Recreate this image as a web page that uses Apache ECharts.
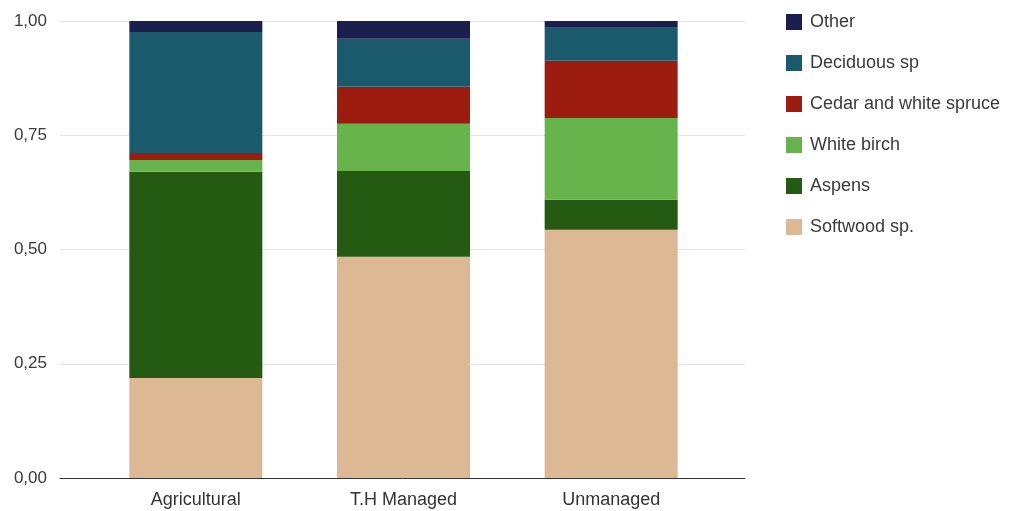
<!DOCTYPE html>
<html>
<head>
<meta charset="utf-8">
<script src="https://cdn.jsdelivr.net/npm/echarts@6/dist/echarts.min.js"></script>
<style>
  html, body { margin: 0; padding: 0; background: #fff; }
  #chart { width: 1012px; height: 511px; }
</style>
</head>
<body>
<div id="chart"></div>
<script>
const categories = ['Agricultural', 'T.H Managed', 'Unmanaged'];
const legendOrder = ['Other', 'Deciduous sp', 'Cedar and white spruce', 'White birch', 'Aspens', 'Softwood sp.'];

// proportions, bottom to top
const softwood = [0.219, 0.484, 0.543];
const aspens = [0.451, 0.188, 0.066];
const whiteBirch = [0.026, 0.103, 0.179];
const cedar = [0.015, 0.081, 0.125];
const deciduous = [0.265, 0.105, 0.072];
const other = [0.024, 0.039, 0.015];

const yTicks = [0, 0.25, 0.5, 0.75, 1];

const chart = echarts.init(document.getElementById('chart'));

const font = 'Liberation Sans, Arial, sans-serif';

function bar(name, data, color) {
  return {
    name,
    type: 'bar',
    stack: 'total',
    xAxisIndex: 1,
    yAxisIndex: 1,
    barWidth: 133,
    itemStyle: { color },
    data
  };
}

chart.setOption({
  animation: false,
  textStyle: { fontFamily: font },
  legend: {
    data: legendOrder,
    orient: 'vertical',
    left: 781,
    top: 8,
    icon: 'rect',
    itemWidth: 16,
    itemHeight: 16,
    itemGap: 23,
    textStyle: { color: '#3a3a3a', fontSize: 18, fontFamily: font, padding: [0, 0, 0, 3] }
  },
  grid: [
    { left: 60, right: 267, top: 21, bottom: 33 },
    { left: 92, right: 297, top: 21, bottom: 33 }
  ],
  xAxis: [
    {
      type: 'category',
      gridIndex: 0,
      data: categories,
      axisLine: { lineStyle: { color: '#333', width: 1 } },
      axisTick: { show: false },
      axisLabel: { show: false }
    },
    {
      type: 'category',
      gridIndex: 1,
      data: categories,
      axisLine: { show: false },
      axisTick: { show: false },
      axisLabel: { color: '#333', fontSize: 18, margin: 13 }
    }
  ],
  yAxis: [
    {
      type: 'value',
      gridIndex: 0,
      min: 0,
      max: 1,
      interval: 0.25,
      axisLine: { show: false },
      axisTick: { show: false },
      splitLine: { lineStyle: { color: '#e4e4e4' } },
      axisLabel: {
        color: '#3a3a3a',
        fontSize: 17,
        margin: 13,
        formatter: v => yTicks.includes(v) ? v.toFixed(2).replace('.', ',') : ''
      }
    },
    {
      type: 'value',
      gridIndex: 1,
      min: 0,
      max: 1,
      interval: 0.25,
      show: false,
      splitLine: { show: false }
    }
  ],
  series: [
    bar('Softwood sp.', softwood, '#dcb994'),
    bar('Aspens', aspens, '#255a12'),
    bar('White birch', whiteBirch, '#67b34c'),
    bar('Cedar and white spruce', cedar, '#9c1c10'),
    bar('Deciduous sp', deciduous, '#1b5a6c'),
    bar('Other', other, '#1a1f4e')
  ]
});
</script>
</body>
</html>
